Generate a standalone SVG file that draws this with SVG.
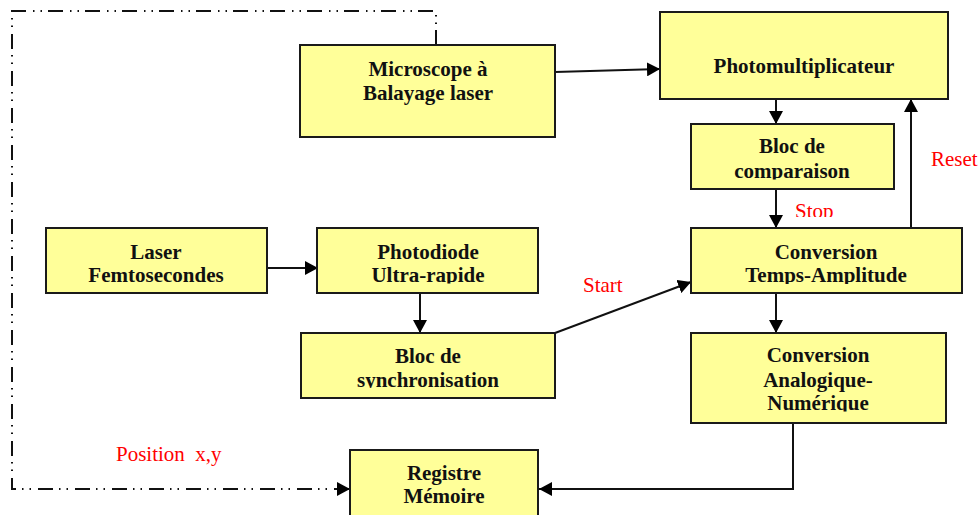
<svg xmlns="http://www.w3.org/2000/svg" width="980" height="515" viewBox="0 0 980 515">
<style>
.box{fill:#FFFF99;stroke:#1a1a1a;stroke-width:2}
.t{font-family:"Liberation Serif","Times New Roman",serif;font-weight:bold;font-size:21px;fill:#111;text-anchor:middle}
.lbl{font-family:"Liberation Serif","Times New Roman",serif;font-size:21px;fill:#FF0000}
.c{fill:none;stroke:#111;stroke-width:2}
.dd{fill:none;stroke:#111;stroke-width:2;stroke-dasharray:15 6 1.5 6 1.5 7}
</style>
<defs>
<marker id="ah" markerUnits="userSpaceOnUse" markerWidth="14" markerHeight="14" refX="13" refY="7" orient="auto"><path d="M0,0 L13,7 L0,14 z" fill="#000"/></marker>
<clipPath id="cpPd"><rect x="317" y="228" width="221" height="55.5"/></clipPath>
<clipPath id="cpCmp"><rect x="691" y="124" width="203" height="55.5"/></clipPath>
<clipPath id="cpSync"><rect x="301" y="333" width="254" height="55"/></clipPath>
<clipPath id="cpTA"><rect x="691" y="228" width="271" height="56"/></clipPath>
<clipPath id="cpCAN"><rect x="691" y="333" width="255" height="78.5"/></clipPath>
<clipPath id="cpStop"><rect x="780" y="190" width="80" height="27"/></clipPath>
</defs>

<g id="connectors">
<path class="c" d="M555,72 L660,69" marker-end="url(#ah)"/>
<path class="c" d="M776,99 L776,124" marker-end="url(#ah)"/>
<path class="c" d="M776,189 L776,228" marker-end="url(#ah)"/>
<path class="c" d="M911,228 L911,99" marker-end="url(#ah)"/>
<path class="c" d="M267,268 L318,268" marker-end="url(#ah)"/>
<path class="c" d="M420,293 L420,333" marker-end="url(#ah)"/>
<path class="c" d="M555,333 L691,282" marker-end="url(#ah)"/>
<path class="c" d="M776,293 L776,333" marker-end="url(#ah)"/>
<path class="c" d="M793,423 L793,489 L539,489" marker-end="url(#ah)"/>
<path class="dd" d="M436,45 L436,11 L12,11 L12,489 L350,489" marker-end="url(#ah)"/>
<text class="lbl" x="583" y="292">Start</text>
<text class="lbl" x="931" y="166">Reset</text>
<text class="lbl" x="795" y="218" clip-path="url(#cpStop)">Stop</text>
<text class="lbl" x="116" y="461" xml:space="preserve">Position  x,y</text>
</g>

<g id="microscope">
<rect class="box" x="300" y="45" width="255" height="92"/>
<text class="t" x="428" y="76">Microscope à</text>
<text class="t" x="428" y="100">Balayage laser</text>
</g>

<g id="photomultiplicateur">
<rect class="box" x="660" y="12" width="288" height="87"/>
<text class="t" x="804" y="73">Photomultiplicateur</text>
</g>

<g id="comparaison">
<rect class="box" x="691" y="124" width="203" height="65"/>
<g clip-path="url(#cpCmp)">
<text class="t" x="792" y="153">Bloc de</text>
<text class="t" x="792" y="178">comparaison</text>
</g>
</g>

<g id="laser">
<rect class="box" x="46" y="228" width="221" height="65"/>
<text class="t" x="156" y="259">Laser</text>
<text class="t" x="156" y="282">Femtosecondes</text>
</g>

<g id="photodiode">
<rect class="box" x="317" y="228" width="221" height="65"/>
<g clip-path="url(#cpPd)">
<text class="t" x="428" y="259">Photodiode</text>
<text class="t" x="428" y="282">Ultra-rapide</text>
</g>
</g>

<g id="synchronisation">
<rect class="box" x="301" y="333" width="254" height="65"/>
<g clip-path="url(#cpSync)">
<text class="t" x="428" y="363">Bloc de</text>
<text class="t" x="428" y="387">synchronisation</text>
</g>
</g>

<g id="tac">
<rect class="box" x="691" y="228" width="271" height="65"/>
<g clip-path="url(#cpTA)">
<text class="t" x="826" y="259">Conversion</text>
<text class="t" x="826" y="282">Temps-Amplitude</text>
</g>
</g>

<g id="can">
<rect class="box" x="691" y="333" width="255" height="90"/>
<g clip-path="url(#cpCAN)">
<text class="t" x="818" y="362">Conversion</text>
<text class="t" x="818" y="387">Analogique-</text>
<text class="t" x="818" y="410">Numérique</text>
</g>
</g>

<g id="registre">
<rect class="box" x="350" y="450" width="188" height="75"/>
<text class="t" x="444" y="480">Registre</text>
<text class="t" x="444" y="503">Mémoire</text>
</g>
</svg>
